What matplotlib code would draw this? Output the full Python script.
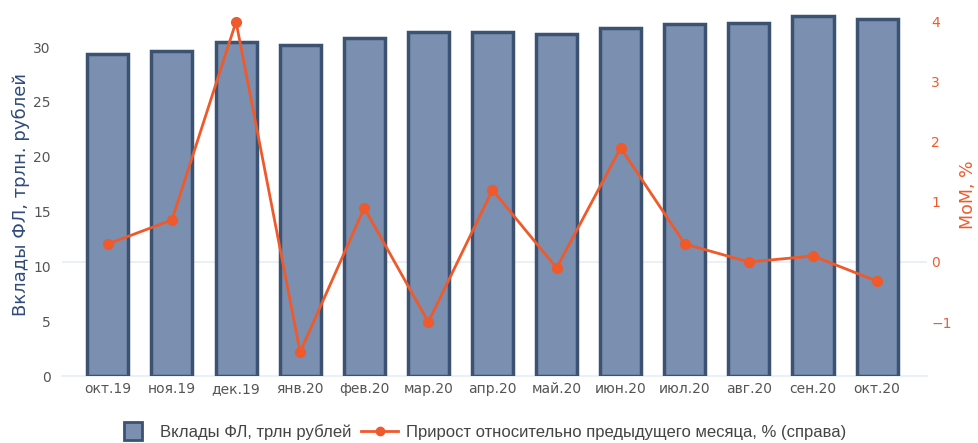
import numpy as np
import matplotlib
matplotlib.use("Agg")
import matplotlib.pyplot as plt
from matplotlib.lines import Line2D

months = ["окт.19", "ноя.19", "дек.19", "янв.20", "фев.20", "мар.20", "апр.20",
          "май.20", "июн.20", "июл.20", "авг.20", "сен.20", "окт.20"]
deposits = [29.4, 29.6, 30.5, 30.2, 30.8, 31.4, 31.4, 31.2, 31.7, 32.1, 32.2, 32.8, 32.6]
mom = [0.3, 0.7, 4.0, -1.5, 0.9, -1.0, 1.2, -0.1, 1.9, 0.3, 0.0, 0.1, -0.32]

bar_fill = "#7b8fb0"
bar_edge = "#3b5273"
line_col = "#f05a2b"
navy = "#2f4a7c"
grey = "#555555"
grid_col = "#e6edf5"

fig = plt.figure(figsize=(9.79, 4.43), dpi=100)
ax = fig.add_axes([0.063, 0.151, 0.884, 0.827])
ax2 = ax.twinx()

left_lim = (0, 33.4)
right_lim = (-1.9, 4.2)

x = np.arange(len(months))
ax.bar(x, deposits, width=0.64, color=bar_fill, edgecolor=bar_edge, linewidth=2.5, zorder=2)
ax.set_ylim(*left_lim)
ax.set_xlim(-0.72, 12.78)
ax.set_yticks([0, 5, 10, 15, 20, 25, 30])
ax.set_xticks(x)
ax.set_xticklabels(months)
ax.tick_params(axis="both", length=0, labelsize=10, labelcolor=grey, pad=4)
ax.tick_params(axis="y", pad=8)
fig.text(21 / 979, 0.56, "Вклады ФЛ, трлн. рублей", color=navy, fontsize=13, rotation=90,
         ha="center", va="center")
ax.axhline(0, color=grid_col, lw=1.2, zorder=1, clip_on=False)
# zero line of the right axis, drawn behind the bars
zero_right = left_lim[0] + (0 - right_lim[0]) / (right_lim[1] - right_lim[0]) * (left_lim[1] - left_lim[0])
ax.axhline(zero_right, color=grid_col, lw=1.2, zorder=1)

ax2.plot(x, mom, color=line_col, lw=2, marker="o", ms=7, zorder=3)
ax2.set_ylim(*right_lim)
ax2.set_yticks([-1, 0, 1, 2, 3, 4])
ax2.set_yticklabels(["\u22121", "0", "1", "2", "3", "4"])
ax2.tick_params(axis="y", length=0, labelsize=10, labelcolor=line_col, pad=3)
fig.text(968 / 979, 0.56, "MoM, %", color=line_col, fontsize=12.5, rotation=90,
         ha="center", va="center")

ax.set_zorder(ax2.get_zorder() - 1)
ax2.patch.set_visible(False)
for a in (ax, ax2):
    for s in a.spines.values():
        s.set_visible(False)

handles = [Line2D([0], [0], ls="none", marker="s", ms=13, markerfacecolor=bar_fill,
                  markeredgecolor=bar_edge, markeredgewidth=2),
           Line2D([0], [0], color=line_col, lw=2, marker="o", ms=6)]
labels = ["Вклады ФЛ, трлн рублей", "Прирост относительно предыдущего месяца, % (справа)"]
fig.legend(handles, labels, loc="center", bbox_to_anchor=(0.491, 0.025), ncol=2, frameon=False,
           prop={"family": "Liberation Sans", "size": 12}, labelcolor="#444444",
           handlelength=2.2, columnspacing=0.6, handletextpad=0.5)

fig.savefig("out.png", dpi=100)
